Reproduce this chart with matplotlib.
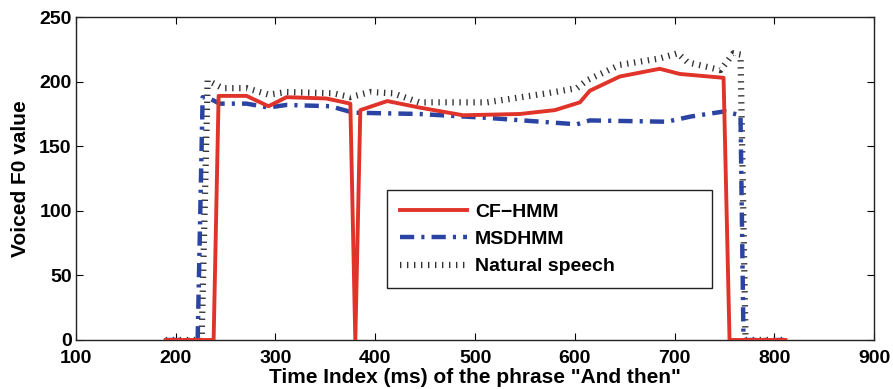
import matplotlib.pyplot as plt

# time index (ms) and voiced F0 values
cf_x = [190, 238, 243, 271, 293, 311, 351, 375, 380, 385, 412, 444, 488, 545, 580, 605, 615, 645, 685, 705, 749, 755, 811]
cf_y = [0, 0, 189, 189, 181, 188, 187, 183, 0, 178, 185, 180, 174, 175, 178, 184, 193, 204, 210, 206, 203, 0, 0]

msd_x = [190, 222, 227, 234, 244, 271, 293, 311, 355, 378, 444, 512, 602, 615, 692, 716, 750, 766, 769, 810]
msd_y = [0, 0, 188, 187, 183, 183, 180, 182, 181, 176, 175, 172, 167, 170, 169, 173, 177, 174, 0, 0]

nat_x = [190, 226, 232, 247, 271, 293, 311, 358, 375, 395, 418, 444, 512, 572, 602, 612, 645, 685, 703, 713, 746, 759, 766, 771, 810]
nat_y = [0, 0, 201, 195, 195, 190, 192, 191, 188, 192, 191, 184, 184, 191, 195, 201, 213, 218, 222, 215, 209, 222, 221, 0, 0]

plt.rcParams['font.family'] = ['Liberation Sans', 'DejaVu Sans']
plt.rcParams['font.weight'] = 'bold'
plt.rcParams['font.size'] = 14

fig = plt.figure(figsize=(8.93, 3.89), dpi=100)
ax = fig.add_axes([0.085, 0.126, 0.894, 0.830])

ax.plot(nat_x, nat_y, color='#333333', lw=4.5, dashes=(0.22, 0.9),
        dash_capstyle='butt', label='Natural speech', zorder=2)
ax.plot(msd_x, msd_y, color='#2b44a3', lw=3.2, dashes=(3.2, 1.6, 0.7, 1.6),
        label='MSDHMM', zorder=3)
ax.plot(cf_x, cf_y, color='#e0332a', lw=2.8, label='CF\u2212HMM', zorder=4)

ax.set_xlim(100, 900)
ax.set_ylim(0, 250)
ax.set_xticks(range(100, 901, 100))
ax.set_yticks(range(0, 251, 50))
ax.tick_params(direction='in', top=True, right=True, length=5, width=0.8)
ax.tick_params(axis='x', pad=7)
ax.tick_params(axis='y', pad=3)
for s in ax.spines.values():
    s.set_linewidth(1.0)
    s.set_color('#222222')

ax.set_xlabel('Time Index (ms) of the phrase "And then"', fontweight='bold',
              fontsize=15, labelpad=1)
ax.set_ylabel('Voiced F0 value', fontweight='bold', fontsize=15, labelpad=7)

h, l = ax.get_legend_handles_labels()
leg = ax.legend(h[::-1], l[::-1], loc='lower left',
                bbox_to_anchor=(0.39, 0.161, 0.407, 0.294), mode='expand',
                borderaxespad=0, handlelength=3.45, handletextpad=0.4,
                labelspacing=0.5, borderpad=0.65,
                fancybox=False, edgecolor='#222222', framealpha=1)
leg.get_frame().set_linewidth(1.0)

fig.savefig('out.png', dpi=100)
